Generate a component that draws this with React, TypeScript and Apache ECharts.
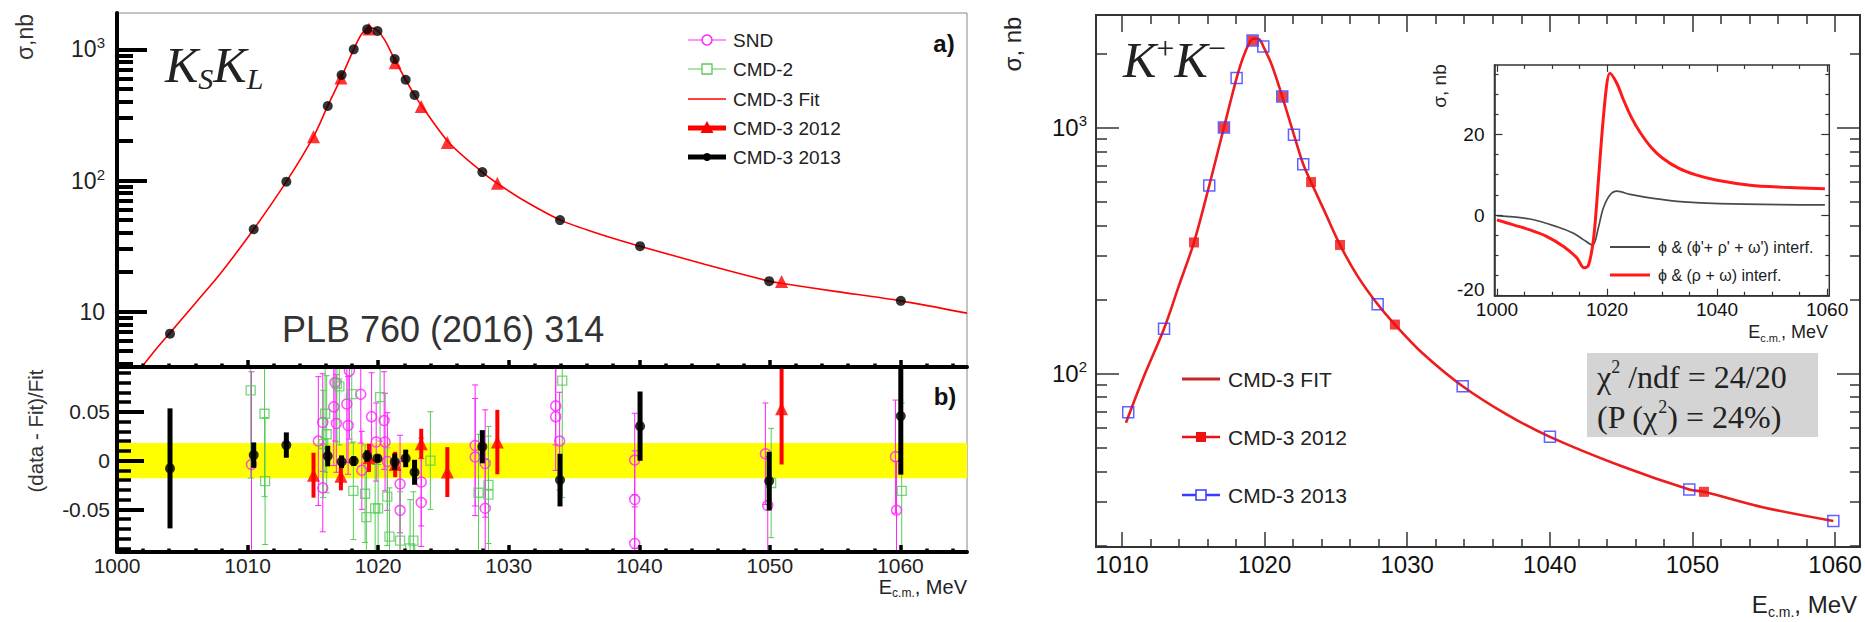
import React, { useEffect, useRef } from 'react';
import * as echarts from 'echarts';

// ================= Left figure: e+e- -> KS KL =================
const ksklXRange = [1000, 1065.1];
const ksklSigmaRange = [3.79, 1891];
const ksklResRange = [-0.0937, 0.0959];
const ksklXTicks = [1000, 1010, 1020, 1030, 1040, 1050, 1060];
const ksklSigmaTicks = [10, 100, 1000];
const ksklResTicks = [-0.05, 0, 0.05];
const ksklBandHalfWidth = 0.018;

const kskl2013E = [1004.06, 1010.47, 1012.97, 1016.14, 1017.2, 1018.13, 1019.16, 1019.95, 1021.27, 1022.11, 1022.79, 1027.98, 1033.93, 1040.06, 1049.95, 1060.03];
const kskl2013Sigma = [6.8, 42.5, 98, 370, 637, 1000, 1420, 1378, 843, 586, 449, 116, 49.9, 31.6, 17.1, 12.1];
const kskl2013Res = [-0.008, 0.0056, 0.0159, 0.0046, -0.0012, -0.0005, 0.0046, 0.0022, -0.0012, 0.0022, -0.012, 0.0142, -0.02, 0.0353, -0.021, 0.0456];
const kskl2013ResErr = [0.0615, 0.013, 0.013, 0.0106, 0.0065, 0.005, 0.006, 0.004, 0.0085, 0.009, 0.0128, 0.017, 0.027, 0.0355, 0.03, 0.06];

const kskl2012E = [1015.05, 1017.15, 1019.3, 1021.3, 1023.3, 1025.3, 1029.13, 1050.9];
const kskl2012Sigma = [216, 605, 1430, 790, 366, 195, 95.3, 17];
const kskl2012Res = [-0.015, -0.016, 0.0028, -0.004, 0.0172, -0.0118, 0.019, 0.053];
const kskl2012ResErr = [0.023, 0.0145, 0.0145, 0.013, 0.0154, 0.0256, 0.033, 0.057];

const ksklFitE = [1001.9, 1003, 1004.06, 1006, 1008, 1010.47, 1012.97, 1015.05, 1016.14, 1017.24, 1018.13, 1018.7, 1019.2, 1019.6, 1019.95, 1020.5, 1021.25, 1022.11, 1022.78, 1023.37, 1025.41, 1027.97, 1029.12, 1031, 1033.97, 1037, 1040.05, 1045, 1049.96, 1051, 1055, 1060.02, 1065.1];
const ksklFitSigma = [3.79, 5.2, 6.9, 11.6, 20, 42.5, 98, 216, 370, 630, 1000, 1290, 1440, 1450, 1390, 1180, 843, 586, 449, 366, 195, 116, 95.3, 72, 49.9, 39, 31.6, 23, 17.1, 16.4, 14.3, 12.1, 9.75];

const sndE = [1010.3, 1015.42, 1015.76, 1015.76, 1016.6, 1016.7, 1016.8, 1017.6, 1017.7, 1017.8, 1018.67, 1018.75, 1019.5, 1019.85, 1020.46, 1020.53, 1020.71, 1021.68, 1021.68, 1023.3, 1023.3, 1027.43, 1027.43, 1028.2, 1028.2, 1033.6, 1033.6, 1033.9, 1039.65, 1039.65, 1039.65, 1049.66, 1049.84, 1059.62, 1059.7];
const sndRes = [-0.004, 0.02, -0.028, 0.039, 0.055, 0.08, 0.038, 0.058, 0.036, 0.092, 0.068, -0.01, 0.045, 0.019, 0.041, 0.019, -0.001, -0.024, -0.051, -0.022, -0.043, 0.0155, 0.0036, -0.049, -0.003, 0.056, 0.045, 0.02, 0.0005, -0.04, -0.085, 0.007, -0.046, 0.004, -0.051];
const sndErr = [0.095, 0.066, 0.045, 0.05, 0.06, 0.06, 0.05, 0.06, 0.05, 0.07, 0.05, 0.04, 0.045, 0.04, 0.05, 0.05, 0.05, 0.05, 0.05, 0.045, 0.045, 0.062, 0.06, 0.05, 0.055, 0.04, 0.055, 0.05, 0.048, 0.05, 0.05, 0.052, 0.05, 0.058, 0.05];

const cmd2E = [1010.24, 1011.3, 1011.34, 1015.8, 1015.94, 1016.06, 1016.84, 1017.03, 1017.98, 1018.1, 1019.0, 1019.1, 1019.77, 1020.0, 1020.15, 1020.7, 1020.87, 1021.68, 1022.45, 1022.7, 1024.0, 1027.69, 1028.45, 1028.45, 1034.1, 1050.1, 1060.1];
const cmd2Res = [0.072, 0.048, -0.021, 0.017, 0.048, 0.027, 0.079, 0.076, 0.068, -0.031, -0.034, -0.058, -0.049, -0.049, 0.065, -0.037, -0.078, -0.082, -0.09, -0.082, 0.0, -0.033, -0.025, -0.035, 0.082, -0.023, -0.031];
const cmd2Err = [0.09, 0.085, 0.065, 0.055, 0.06, 0.06, 0.06, 0.06, 0.05, 0.05, 0.05, 0.05, 0.045, 0.045, 0.045, 0.05, 0.05, 0.05, 0.05, 0.05, 0.05, 0.06, 0.06, 0.06, 0.12, 0.056, 0.09];

// ================= Right figure: e+e- -> K+K- =================
const kpkmXRange = [1008.18, 1061.75];
const kpkmSigmaRange = [19.68, 2869];
const kpkmXTicks = [1010, 1020, 1030, 1040, 1050, 1060];
const kpkmSigmaTicks = [100, 1000];

const kpkm2013E = [1010.44, 1012.95, 1016.12, 1017.15, 1018.04, 1019.16, 1019.91, 1021.24, 1022.06, 1022.71, 1027.93, 1033.89, 1040.01, 1049.78, 1059.88];
const kpkm2013Sigma = [69.5, 152, 581, 1000, 1589, 2260, 2138, 1337, 934, 709, 191, 88.7, 55.2, 33.7, 25.1];
const kpkm2012E = [1015.05, 1017.15, 1019.16, 1021.24, 1023.26, 1025.29, 1029.14, 1050.81];
const kpkm2012Sigma = [341, 1000, 2260, 1337, 600, 333, 158, 33];
const kpkmFitE = [1010.28, 1011.5, 1012.95, 1014, 1015.05, 1016.12, 1017.15, 1018.04, 1018.6, 1019.2, 1019.6, 1019.91, 1020.5, 1021.24, 1022.06, 1022.71, 1023.26, 1024.2, 1025.29, 1026.5, 1027.93, 1029.14, 1031, 1033.89, 1037, 1040.01, 1045, 1049.78, 1050.81, 1055, 1059.88];
const kpkmFitSigma = [63, 96, 152, 228, 341, 581, 1000, 1589, 2000, 2300, 2290, 2140, 1800, 1337, 934, 709, 600, 457, 333, 250, 191, 158, 122, 88.7, 68, 55.2, 42, 33.7, 33, 28.5, 25.1];

// ================= Inset: interference terms =================
const insetXRange = [999.55, 1060.4];
const insetYRange = [-20, 37.2];
const insetXTicks = [1000, 1020, 1040, 1060];
const insetYTicks = [-20, 0, 20];
const insetRhoOmegaE = [1000, 1003, 1006, 1009, 1012.1, 1014.5, 1015.8, 1016.6, 1017.5, 1018.1, 1019.0, 1019.9, 1020.5, 1021.8, 1023.0, 1024.5, 1026.0, 1028.0, 1030.0, 1033.0, 1036.0, 1040.0, 1046.0, 1052.0, 1059.6];
const insetRhoOmega = [-1.2, -2.45, -3.7, -5.3, -7.8, -10.6, -13.1, -12.6, -6.5, 2.4, 18.8, 31.8, 35.1, 32.6, 28.5, 24.0, 20.5, 16.8, 14.2, 11.6, 10.0, 8.6, 7.4, 6.9, 6.5];
const insetPrimeE = [1000, 1006, 1010.9, 1013.9, 1015.7, 1017.4, 1018.4, 1019.3, 1020.5, 1021.8, 1024.2, 1028.4, 1033.3, 1040.5, 1059.6];
const insetPrime = [-0.15, -1.0, -2.9, -4.5, -6.1, -7.5, -3.3, 1.6, 4.9, 5.9, 5.1, 4.1, 3.3, 2.8, 2.5];

// ================= helpers =================
const SANS = '"Liberation Sans", Arial, Helvetica, sans-serif';
const SERIF = '"Liberation Serif", "Times New Roman", serif';

const zip = (a: number[], b: number[]) => a.map((x, i) => [x, b[i]]);
const zip3 = (a: number[], b: number[], c: number[]) => a.map((x, i) => [x, b[i], c[i]]);
const plain = (v: number) => String(v);

function stepValues(a: number, b: number, step: number, skipStep: number) {
  const out: number[] = [];
  const n = Math.round((b - a) / step);
  for (let i = 0; i <= n; i++) {
    const v = +(a + i * step).toFixed(6);
    const r = v / skipStep;
    if (Math.abs(r - Math.round(r)) > 1e-6) out.push(v);
  }
  return out;
}
function logMinor(lo: number, hi: number) {
  const out: number[] = [];
  for (let e = -1; e <= 4; e++) {
    for (let m = 2; m <= 9; m++) {
      const v = +(m * Math.pow(10, e)).toPrecision(6);
      if (v >= lo && v <= hi) out.push(v);
    }
  }
  return out;
}

function mkAxis(p: any) {
  return {
    type: p.type || 'value',
    gridIndex: p.grid,
    min: p.min,
    max: p.max,
    position: p.position,
    z: p.z ?? 5,
    splitLine: { show: false },
    axisLine: p.line
      ? { show: true, onZero: false, lineStyle: { color: p.line.color, width: p.line.width } }
      : { show: false, onZero: false },
    axisTick: {
      show: true,
      inside: true,
      length: p.len,
      customValues: p.ticks,
      lineStyle: { color: p.color, width: p.width },
    },
    axisLabel: p.label ? { show: true, customValues: p.ticks, ...p.label } : { show: false },
  };
}

function errorBars(name: string, data: number[][], xi: number, yi: number, color: string, width: number, cap: number, z: number) {
  return {
    type: 'custom',
    name,
    xAxisIndex: xi,
    yAxisIndex: yi,
    z,
    silent: true,
    data,
    encode: { x: 0, y: 1 },
    renderItem: (params: any, api: any) => {
      const x = api.value(0);
      const v = api.value(1);
      const e = api.value(2);
      const top = api.coord([x, v + e]);
      const bot = api.coord([x, v - e]);
      const cs = params.coordSys;
      const yMin = cs.y;
      const yMax = cs.y + cs.height;
      const y0 = Math.max(yMin, Math.min(yMax, top[1]));
      const y1 = Math.max(yMin, Math.min(yMax, bot[1]));
      const children: any[] = [
        { type: 'line', shape: { x1: top[0], y1: y0, x2: top[0], y2: y1 }, style: { stroke: color, lineWidth: width } },
      ];
      if (cap > 0) {
        if (top[1] >= yMin) children.push({ type: 'line', shape: { x1: top[0] - cap, y1: top[1], x2: top[0] + cap, y2: top[1] }, style: { stroke: color, lineWidth: width } });
        if (bot[1] <= yMax) children.push({ type: 'line', shape: { x1: bot[0] - cap, y1: bot[1], x2: bot[0] + cap, y2: bot[1] }, style: { stroke: color, lineWidth: width } });
      }
      return { type: 'group', children };
    },
  };
}

const supRich = (base: number, sup: number, color: string) => ({
  a: { fontSize: base, lineHeight: base + 5, fontFamily: SANS, color },
  p: { fontSize: sup, lineHeight: sup, verticalAlign: 'top', fontFamily: SANS, color },
});
const powLabel = (v: number) => {
  const p = Math.round(Math.log10(v));
  return p === 1 ? '{a|10}' : `{a|10}{p|${p}}`;
};

function text(x: number, y: number, t: string, o: any = {}) {
  return {
    type: 'text',
    x,
    y,
    rotation: o.rotation || 0,
    z: 100,
    style: {
      text: t,
      fill: o.color || '#222',
      font: o.font || `${o.size || 20}px ${SANS}`,
      align: o.align || 'left',
      verticalAlign: o.vAlign || 'middle',
      rich: o.rich,
    },
  };
}
const gLine = (x1: number, y1: number, x2: number, y2: number, stroke: string, lineWidth: number) => ({
  type: 'line', z: 100, shape: { x1, y1, x2, y2 }, style: { stroke, lineWidth },
});

export default function App() {
  const ref = useRef<HTMLDivElement>(null);

  useEffect(() => {
    if (!ref.current) return;
    const chart = echarts.init(ref.current, undefined, { renderer: 'svg' });

    const G0 = { left: 117, top: 13, width: 850, height: 354, show: true, borderColor: '#888', borderWidth: 1, backgroundColor: 'transparent' };
    const G1 = { left: 117, top: 367, width: 850, height: 185, show: true, borderColor: '#888', borderWidth: 1, backgroundColor: 'transparent' };
    const G2 = { left: 1096, top: 15, width: 764, height: 532, show: true, borderColor: '#333', borderWidth: 2, backgroundColor: 'transparent' };
    const G3 = { left: 1494.5, top: 64.9, width: 334.8, height: 230.8, show: true, borderColor: '#333', borderWidth: 1.5, backgroundColor: '#fff' };

    const leftXMinor = stepValues(1002, 1064, 2, 10);
    const ksklSigmaMinor = logMinor(ksklSigmaRange[0], ksklSigmaRange[1]);
    const ksklResMinor = stepValues(-0.09, 0.09, 0.01, 0.05);
    const rightXMinor = stepValues(1010, 1060, 2, 10);
    const kpkmSigmaMinor = logMinor(kpkmSigmaRange[0], kpkmSigmaRange[1]);
    const insetXMinor = stepValues(1005, 1055, 5, 20);
    const insetYMinor = stepValues(-15, 35, 5, 20);

    const leftLbl = { fontSize: 21, color: '#222', fontFamily: SANS };
    const xAxis = [
      // 0,1: KS KL top panel bottom axis
      mkAxis({ grid: 0, min: ksklXRange[0], max: ksklXRange[1], position: 'bottom', ticks: ksklXTicks, len: 7, width: 3.5, color: '#000', line: { color: '#000', width: 4 }, z: 10 }),
      mkAxis({ grid: 0, min: ksklXRange[0], max: ksklXRange[1], position: 'bottom', ticks: leftXMinor, len: 3.5, width: 3.5, color: '#000', z: 10 }),
      // 2,3: residual panel bottom axis
      mkAxis({ grid: 1, min: ksklXRange[0], max: ksklXRange[1], position: 'bottom', ticks: ksklXTicks, len: 7, width: 3.5, color: '#000', line: { color: '#000', width: 4 }, z: 10, label: { ...leftLbl, margin: 3, formatter: plain } }),
      mkAxis({ grid: 1, min: ksklXRange[0], max: ksklXRange[1], position: 'bottom', ticks: leftXMinor, len: 3.5, width: 3.5, color: '#000', z: 10 }),
      // 4-7: K+K- main
      mkAxis({ grid: 2, min: kpkmXRange[0], max: kpkmXRange[1], position: 'bottom', ticks: kpkmXTicks, len: 15, width: 1.5, color: '#333', line: { color: '#333', width: 2 }, label: { fontSize: 24, color: '#111', fontFamily: SANS, margin: 5, formatter: plain } }),
      mkAxis({ grid: 2, min: kpkmXRange[0], max: kpkmXRange[1], position: 'bottom', ticks: rightXMinor, len: 8, width: 1.5, color: '#333' }),
      mkAxis({ grid: 2, min: kpkmXRange[0], max: kpkmXRange[1], position: 'top', ticks: kpkmXTicks, len: 17, width: 1.5, color: '#333' }),
      mkAxis({ grid: 2, min: kpkmXRange[0], max: kpkmXRange[1], position: 'top', ticks: rightXMinor, len: 9, width: 1.5, color: '#333' }),
      // 8-11: inset
      mkAxis({ grid: 3, min: insetXRange[0], max: insetXRange[1], position: 'bottom', ticks: insetXTicks, len: 7, width: 1.2, color: '#333', line: { color: '#333', width: 1.5 }, label: { fontSize: 19, color: '#111', fontFamily: SANS, margin: 4, formatter: plain } }),
      mkAxis({ grid: 3, min: insetXRange[0], max: insetXRange[1], position: 'bottom', ticks: insetXMinor, len: 4, width: 1.2, color: '#333' }),
      mkAxis({ grid: 3, min: insetXRange[0], max: insetXRange[1], position: 'top', ticks: insetXTicks, len: 7, width: 1.2, color: '#333' }),
      mkAxis({ grid: 3, min: insetXRange[0], max: insetXRange[1], position: 'top', ticks: insetXMinor, len: 4, width: 1.2, color: '#333' }),
    ];

    const yAxis = [
      // 0,1: KS KL sigma (log)
      mkAxis({ type: 'log', grid: 0, min: ksklSigmaRange[0], max: ksklSigmaRange[1], position: 'left', ticks: ksklSigmaTicks, len: 30, width: 4, color: '#000', line: { color: '#000', width: 4 }, z: 10,
        label: { margin: 12, formatter: powLabel, rich: supRich(23, 15, '#222') } }),
      mkAxis({ type: 'log', grid: 0, min: ksklSigmaRange[0], max: ksklSigmaRange[1], position: 'left', ticks: ksklSigmaMinor, len: 16, width: 4, color: '#000', z: 10 }),
      // 2,3: residuals
      mkAxis({ grid: 1, min: ksklResRange[0], max: ksklResRange[1], position: 'left', ticks: ksklResTicks, len: 27, width: 4, color: '#000', line: { color: '#000', width: 4 }, z: 10,
        label: { ...leftLbl, margin: 7, formatter: (v: number) => (v === 0 ? '0' : v.toFixed(2)) } }),
      mkAxis({ grid: 1, min: ksklResRange[0], max: ksklResRange[1], position: 'left', ticks: ksklResMinor, len: 14, width: 3.5, color: '#000', z: 10 }),
      // 4-7: K+K- sigma (log)
      mkAxis({ type: 'log', grid: 2, min: kpkmSigmaRange[0], max: kpkmSigmaRange[1], position: 'left', ticks: kpkmSigmaTicks, len: 23, width: 1.5, color: '#333', line: { color: '#333', width: 2 },
        label: { margin: 9, formatter: powLabel, rich: supRich(24, 15, '#111') } }),
      mkAxis({ type: 'log', grid: 2, min: kpkmSigmaRange[0], max: kpkmSigmaRange[1], position: 'left', ticks: kpkmSigmaMinor, len: 11, width: 1.5, color: '#333' }),
      mkAxis({ type: 'log', grid: 2, min: kpkmSigmaRange[0], max: kpkmSigmaRange[1], position: 'right', ticks: kpkmSigmaTicks, len: 23, width: 1.5, color: '#333' }),
      mkAxis({ type: 'log', grid: 2, min: kpkmSigmaRange[0], max: kpkmSigmaRange[1], position: 'right', ticks: kpkmSigmaMinor, len: 10, width: 1.5, color: '#333' }),
      // 8-11: inset
      mkAxis({ grid: 3, min: insetYRange[0], max: insetYRange[1], position: 'left', ticks: insetYTicks, len: 8, width: 1.2, color: '#333', line: { color: '#333', width: 1.5 },
        label: { fontSize: 19, color: '#111', fontFamily: SANS, margin: 10,
          formatter: (v: number) => (v === insetYRange[0] ? `{lo|${v}}` : String(v)),
          rich: { lo: { fontSize: 19, color: '#111', fontFamily: SANS, padding: [0, 0, 12, 0] } } } }),
      mkAxis({ grid: 3, min: insetYRange[0], max: insetYRange[1], position: 'left', ticks: insetYMinor, len: 4, width: 1.2, color: '#333' }),
      mkAxis({ grid: 3, min: insetYRange[0], max: insetYRange[1], position: 'right', ticks: insetYTicks, len: 8, width: 1.2, color: '#333' }),
      mkAxis({ grid: 3, min: insetYRange[0], max: insetYRange[1], position: 'right', ticks: insetYMinor, len: 4, width: 1.2, color: '#333' }),
    ];

    const series: any[] = [
      // ---- KS KL cross-section ----
      { type: 'line', name: 'CMD-3 Fit', xAxisIndex: 0, yAxisIndex: 0, data: zip(ksklFitE, ksklFitSigma), smooth: 0.3, showSymbol: false, clip: true, z: 3,
        lineStyle: { color: '#ff0000', width: 1.6 } },
      { type: 'scatter', name: 'CMD-3 2012', xAxisIndex: 0, yAxisIndex: 0, data: zip(kskl2012E, kskl2012Sigma), symbol: 'triangle', symbolSize: 13, z: 4,
        itemStyle: { color: '#ff0000' } },
      { type: 'scatter', name: 'CMD-3 2013', xAxisIndex: 0, yAxisIndex: 0, data: zip(kskl2013E, kskl2013Sigma), symbol: 'circle', symbolSize: 10, z: 5,
        itemStyle: { color: '#000' } },
      // ---- residuals ----
      {
        type: 'custom', name: 'band', xAxisIndex: 2, yAxisIndex: 2, z: 1, silent: true,
        data: [[ksklXRange[0], ksklXRange[1], -ksklBandHalfWidth, ksklBandHalfWidth]],
        encode: { x: [0, 1], y: [2, 3] },
        renderItem: (_p: any, api: any) => {
          const a = api.coord([api.value(0), api.value(3)]);
          const b = api.coord([api.value(1), api.value(2)]);
          return { type: 'rect', shape: { x: a[0], y: a[1], width: b[0] - a[0], height: b[1] - a[1] }, style: { fill: '#ffff00' } };
        },
      },
      errorBars('SND err', zip3(sndE, sndRes, sndErr), 2, 2, '#ff22ff', 1, 3, 2),
      errorBars('CMD-2 err', zip3(cmd2E, cmd2Res, cmd2Err), 2, 2, '#55cc55', 1, 3, 2),
      { type: 'scatter', name: 'SND', xAxisIndex: 2, yAxisIndex: 2, data: zip(sndE, sndRes), symbol: 'circle', symbolSize: 10, z: 3,
        itemStyle: { color: 'rgba(0,0,0,0)', borderColor: '#ff22ff', borderWidth: 1.5 } },
      { type: 'scatter', name: 'CMD-2', xAxisIndex: 2, yAxisIndex: 2, data: zip(cmd2E, cmd2Res), symbol: 'rect', symbolSize: 9, z: 3,
        itemStyle: { color: 'rgba(0,0,0,0)', borderColor: '#55cc55', borderWidth: 1.3 } },
      errorBars('CMD-3 2012 err', zip3(kskl2012E, kskl2012Res, kskl2012ResErr), 2, 2, '#ff0000', 4, 0, 4),
      { type: 'scatter', name: 'CMD-3 2012 res', xAxisIndex: 2, yAxisIndex: 2, data: zip(kskl2012E, kskl2012Res), symbol: 'triangle', symbolSize: 13, z: 5,
        itemStyle: { color: '#ff0000' } },
      errorBars('CMD-3 2013 err', zip3(kskl2013E, kskl2013Res, kskl2013ResErr), 2, 2, '#000', 5, 0, 6),
      { type: 'scatter', name: 'CMD-3 2013 res', xAxisIndex: 2, yAxisIndex: 2, data: zip(kskl2013E, kskl2013Res), symbol: 'circle', symbolSize: 10, z: 7,
        itemStyle: { color: '#000' } },
      // ---- K+K- ----
      { type: 'line', name: 'CMD-3 FIT', xAxisIndex: 4, yAxisIndex: 4, data: zip(kpkmFitE, kpkmFitSigma), smooth: 0.3, showSymbol: false, z: 3,
        lineStyle: { color: '#ee1c1c', width: 2.6 } },
      { type: 'scatter', name: 'CMD-3 2012 (K+K-)', xAxisIndex: 4, yAxisIndex: 4, data: zip(kpkm2012E, kpkm2012Sigma), symbol: 'rect', symbolSize: 10, z: 4,
        itemStyle: { color: '#ee1111' } },
      { type: 'scatter', name: 'CMD-3 2013 (K+K-)', xAxisIndex: 4, yAxisIndex: 4, data: zip(kpkm2013E, kpkm2013Sigma), symbol: 'rect', symbolSize: 11, z: 5,
        itemStyle: { color: 'rgba(0,0,0,0)', borderColor: '#3a3aff', borderWidth: 1.5 } },
      // ---- inset ----
      { type: 'line', name: 'phi & (phi\'+rho\'+omega\') interf.', xAxisIndex: 8, yAxisIndex: 8, data: zip(insetPrimeE, insetPrime), smooth: 0.3, showSymbol: false, z: 4,
        lineStyle: { color: '#4a4a4a', width: 1.7 } },
      { type: 'line', name: 'phi & (rho+omega) interf.', xAxisIndex: 8, yAxisIndex: 8, data: zip(insetRhoOmegaE, insetRhoOmega), smooth: 0.3, showSymbol: false, z: 5,
        lineStyle: { color: '#ff1a1a', width: 3 } },
    ];

    const subRich = (base: number, sub: number, lh: number, color: string) => ({
      a: { fontSize: base, lineHeight: lh, fontFamily: SANS, color },
      s: { fontSize: sub, lineHeight: sub, verticalAlign: 'bottom', fontFamily: SANS, color },
    });

    const graphic: any[] = [
      // left titles
      text(25, 37, 'σ,nb', { size: 23, rotation: Math.PI / 2, align: 'center', color: '#333' }),
      text(35, 431, '(data - Fit)/Fit', { size: 20.5, rotation: Math.PI / 2, align: 'center', color: '#333' }),
      text(165, 65, '{k|K}{s|S}{k|K}{s|L}', {
        rich: {
          k: { fontSize: 50, lineHeight: 56, fontFamily: SERIF, fontStyle: 'italic', color: '#333' },
          s: { fontSize: 30, lineHeight: 30, verticalAlign: 'bottom', fontFamily: SERIF, fontStyle: 'italic', color: '#333' },
        },
      }),
      text(282, 329, 'PLB 760 (2016) 314', { size: 36, color: '#333' }),
      text(944, 43, 'a)', { font: `bold 24px ${SANS}`, align: 'center', color: '#111' }),
      text(945, 396, 'b)', { font: `bold 24px ${SANS}`, align: 'center', color: '#111' }),
      text(967, 587, '{a|E}{s|c.m.}{a|, MeV}', { align: 'right', rich: subRich(20, 12, 24, '#222') }),
      // left legend
      gLine(688, 40, 726, 40, '#ff22ff', 1.2),
      { type: 'circle', z: 101, shape: { cx: 707, cy: 40, r: 5 }, style: { fill: '#fff', stroke: '#ff22ff', lineWidth: 1.5 } },
      text(733, 40, 'SND', { size: 19 }),
      gLine(688, 69, 726, 69, '#55cc55', 1.2),
      { type: 'rect', z: 101, shape: { x: 702, y: 64, width: 10, height: 10 }, style: { fill: '#fff', stroke: '#55cc55', lineWidth: 1.3 } },
      text(733, 69, 'CMD-2', { size: 19 }),
      gLine(688, 99, 726, 99, '#ff0000', 1.3),
      text(733, 99, 'CMD-3 Fit', { size: 19 }),
      gLine(688, 128, 726, 128, '#ff0000', 5),
      { type: 'polygon', z: 101, shape: { points: [[707, 121], [700.5, 133], [713.5, 133]] }, style: { fill: '#ff0000' } },
      text(733, 128, 'CMD-3 2012', { size: 19 }),
      gLine(688, 157, 726, 157, '#000', 5),
      { type: 'circle', z: 101, shape: { cx: 707, cy: 157, r: 4 }, style: { fill: '#000' } },
      text(733, 157, 'CMD-3 2013', { size: 19 }),

      // right titles
      text(1012, 44, 'σ, nb', { size: 24, rotation: Math.PI / 2, align: 'center', color: '#222' }),
      text(1123, 60, '{k|K}{p|+}{k|K}{p|−}', {
        rich: {
          k: { fontSize: 50, lineHeight: 56, fontFamily: SERIF, fontStyle: 'italic', color: '#333' },
          p: { fontSize: 32, lineHeight: 38, verticalAlign: 'top', fontFamily: SERIF, color: '#333' },
        },
      }),
      text(1857, 604, '{a|E}{s|c.m.}{a|, MeV}', { align: 'right', rich: subRich(24, 14, 30, '#111') }),
      // right legend
      gLine(1182, 379, 1220, 379, '#c62828', 3),
      text(1228, 379, 'CMD-3 FIT', { size: 21 }),
      gLine(1182, 437, 1220, 437, '#ee1111', 2.5),
      { type: 'rect', z: 101, shape: { x: 1196, y: 432, width: 10, height: 10 }, style: { fill: '#ee1111' } },
      text(1228, 437, 'CMD-3 2012', { size: 21 }),
      gLine(1182, 495, 1220, 495, '#3a3aff', 2.5),
      { type: 'rect', z: 101, shape: { x: 1196, y: 490, width: 10, height: 10 }, style: { fill: '#fff', stroke: '#3a3aff', lineWidth: 1.5 } },
      text(1228, 495, 'CMD-3 2013', { size: 21 }),
      // chi2 box
      { type: 'rect', z: 99, shape: { x: 1587, y: 353, width: 231, height: 84 }, style: { fill: '#d4d4d4' } },
      text(1597, 377, '{t|χ}{p|2}{t| /ndf = 24/20}', {
        rich: {
          t: { fontSize: 32, lineHeight: 38, fontFamily: SERIF, color: '#111' },
          p: { fontSize: 18, lineHeight: 20, verticalAlign: 'top', fontFamily: SERIF, color: '#111' },
        },
      }),
      text(1597, 417, '{t|(P (χ}{p|2}{t|) = 24%)}', {
        rich: {
          t: { fontSize: 32, lineHeight: 38, fontFamily: SERIF, color: '#111' },
          p: { fontSize: 18, lineHeight: 20, verticalAlign: 'top', fontFamily: SERIF, color: '#111' },
        },
      }),
      // inset titles & legend
      text(1439, 86, 'σ, nb', { size: 19, rotation: Math.PI / 2, align: 'center', color: '#222' }),
      text(1828, 332, '{a|E}{s|c.m.}{a|, MeV}', { align: 'right', rich: subRich(18, 11, 22, '#222') }),
      gLine(1610, 247, 1650, 247, '#4a4a4a', 1.8),
      text(1658, 247, "ϕ & (ϕ'+ ρ' + ω') interf.", { size: 16 }),
      gLine(1610, 275, 1650, 275, '#ff1a1a', 3),
      text(1658, 275, 'ϕ & (ρ + ω) interf.', { size: 16 }),
    ];

    chart.setOption({
      animation: false,
      backgroundColor: '#fff',
      textStyle: { fontFamily: SANS },
      grid: [G0, G1, G2, G3],
      xAxis,
      yAxis,
      series,
      graphic,
    });

    return () => chart.dispose();
  }, []);

  return <div ref={ref} style={{ position: 'fixed', left: 0, top: 0, width: 1865, height: 622, background: '#fff' }} />;
}
